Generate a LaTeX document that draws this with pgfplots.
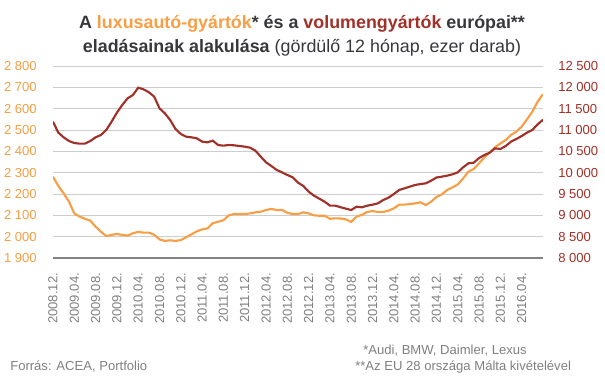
\documentclass[border=0pt]{standalone}
\usepackage{pgfplots}
\usepackage{pgfplotstable}
\pgfplotsset{compat=1.18}
\usepackage{fontspec}
\setmainfont{Liberation Sans}
\definecolor{lux}{RGB}{247,158,70}
\definecolor{vol}{RGB}{160,48,40}
\definecolor{ttl}{RGB}{55,55,60}
\definecolor{gridc}{RGB}{205,205,205}
\definecolor{axc}{RGB}{130,130,130}
\definecolor{lblc}{RGB}{128,128,128}

\pgfplotstableread{
i lux vol
0 2281 11195
1 2238 10938
2 2203 10828
3 2164 10742
4 2109 10695
5 2094 10680
6 2084 10680
7 2075 10742
8 2047 10828
9 2023 10883
10 2003 11000
11 2008 11195
12 2013 11406
13 2008 11586
14 2005 11742
15 2016 11820
16 2022 11992
17 2019 11953
18 2019 11885
19 2009 11781
20 1987 11508
21 1980 11391
22 1983 11234
23 1980 11023
24 1984 10906
25 1997 10844
26 2011 10828
27 2025 10805
28 2034 10727
29 2039 10711
30 2063 10750
31 2070 10648
32 2077 10633
33 2100 10648
34 2106 10641
35 2106 10625
36 2106 10610
37 2109 10586
38 2114 10516
39 2117 10375
40 2125 10242
41 2130 10156
42 2125 10063
43 2125 10008
44 2112 9945
45 2106 9891
46 2106 9766
47 2114 9688
48 2109 9555
49 2100 9461
50 2098 9391
51 2098 9320
52 2084 9227
53 2086 9227
54 2085 9190
55 2081 9156
56 2069 9125
57 2094 9203
58 2102 9188
59 2116 9227
60 2120 9250
61 2116 9281
62 2116 9359
63 2122 9414
64 2133 9500
65 2150 9594
66 2150 9633
67 2153 9672
68 2156 9711
69 2161 9734
70 2148 9750
71 2164 9813
72 2186 9887
73 2198 9906
74 2219 9930
75 2231 9961
76 2245 10008
77 2273 10125
78 2305 10219
79 2317 10234
80 2344 10344
81 2372 10414
82 2394 10469
83 2419 10570
84 2437 10555
85 2453 10625
86 2477 10727
87 2492 10789
88 2516 10859
89 2550 10938
90 2586 11000
91 2633 11133
92 2668 11240
}\datatable

\begin{document}
\begin{tikzpicture}
\path[use as bounding box] (0,0) rectangle (453.75pt,283.5pt);
\begin{axis}[
  at={(39.75pt,90pt)}, anchor=south west,
  scale only axis, width=367.5pt, height=144pt,
  xmin=0, xmax=92, ymin=1900, ymax=2800,
  axis y line*=left, axis x line*=bottom,
  y axis line style={draw=none},
  x axis line style={draw=axc, line width=0.9pt},
  major tick length=0pt,
  scaled y ticks=false,
  ytick={1900,2000,...,2800},
  yticklabels={1 900,2 000,2 100,2 200,2 300,2 400,2 500,2 600,2 700,2 800},
  yticklabel style={font=\fontsize{9.8}{11}\selectfont, text=lux, anchor=east, inner sep=0pt, xshift=-12pt},
  xtick={0,4,...,88},
  xticklabels={2008.12.,2009.04.,2009.08.,2009.12.,2010.04.,2010.08.,2010.12.,2011.04.,2011.08.,2011.12.,2012.04.,2012.08.,2012.12.,2013.04.,2013.08.,2013.12.,2014.04.,2014.08.,2014.12.,2015.04.,2015.08.,2015.12.,2016.04.},
  xticklabel style={font=\fontsize{9.8}{11}\selectfont, text=lblc, yshift=-11pt, rotate=90, anchor=east, inner sep=0pt},
  ymajorgrids, grid style={draw=gridc, line width=0.75pt},
]
\addplot[lux, line width=1.6pt, no marks] table[x=i, y=lux] {\datatable};
\end{axis}
\begin{axis}[
  at={(39.75pt,90pt)}, anchor=south west,
  scale only axis, width=367.5pt, height=144pt,
  xmin=0, xmax=92, ymin=8000, ymax=12500,
  axis y line*=right, axis x line=none,
  y axis line style={draw=none},
  major tick length=0pt,
  scaled y ticks=false,
  ytick={8000,8500,...,12500},
  yticklabels={8 000,8 500,9 000,9 500,10 000,10 500,11 000,11 500,12 000,12 500},
  yticklabel style={font=\fontsize{9.8}{11}\selectfont, text=vol, anchor=west, inner sep=0pt, xshift=11.25pt},
]
\addplot[vol, line width=1.6pt, no marks] table[x=i, y=vol] {\datatable};
\end{axis}
\node[anchor=base, text=ttl, font=\bfseries\fontsize{13.4}{15}\selectfont] at (226.5pt,261.75pt)
  {A \textcolor{lux}{luxusautó-gyártók}* és a \textcolor{vol}{volumengyártók} európai**};
\node[anchor=base, text=ttl, font=\fontsize{13.4}{15}\selectfont] at (226.5pt,243.75pt)
  {\textbf{eladásainak alakulása} (gördülő 12 hónap, ezer darab)};
\node[anchor=base west, text=lblc, inner sep=0pt, font=\fontsize{9.8}{11}\selectfont] at (7.5pt,6pt) {Forrás: ACEA, Portfolio};
\node[anchor=base west, text=lblc, inner sep=0pt, font=\fontsize{9.8}{11}\selectfont] at (272.25pt,18pt) {*Audi, BMW, Daimler, Lexus};
\node[anchor=base west, text=lblc, inner sep=0pt, font=\fontsize{9.8}{11}\selectfont] at (266.25pt,6pt) {**Az EU 28 országa Málta kivételével};
\end{tikzpicture}
\end{document}
